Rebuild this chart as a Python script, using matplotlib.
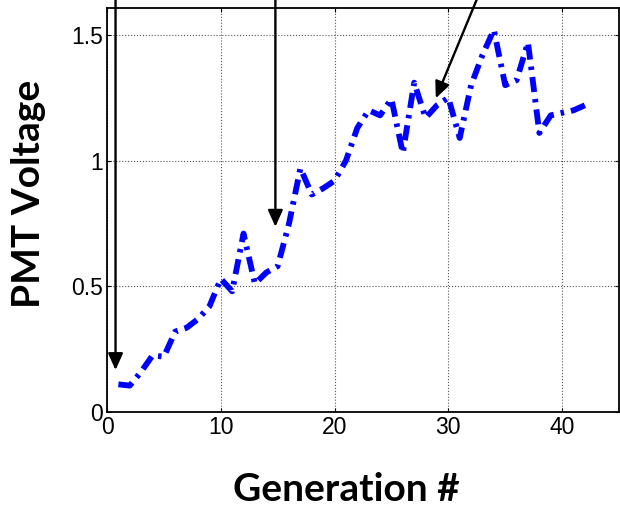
import matplotlib
matplotlib.use('Agg')
from matplotlib import pyplot as plt

# PMT voltage per generation
generation = list(range(1, 43))
pmt_voltage = [0.11, 0.105, 0.16, 0.225, 0.22, 0.32, 0.335, 0.37, 0.42, 0.53,
               0.48, 0.71, 0.51, 0.555, 0.58, 0.75, 0.97, 0.865, 0.89, 0.92,
               1.0, 1.13, 1.2, 1.18, 1.245, 1.03, 1.31, 1.17, 1.22, 1.25,
               1.09, 1.3, 1.42, 1.52, 1.3, 1.32, 1.47, 1.11, 1.18, 1.19,
               1.2, 1.22]

# arrow tips (generation, voltage) and where each arrow starts
arrow_tips = [(0.75, 0.167), (14.8, 0.737), (28.9, 1.248)]
arrow_tails = [(0.75, 1.75), (14.8, 1.75), (33.5, 1.75)]

fig = plt.figure(figsize=(6.2, 5.09), dpi=100)
ax = fig.add_axes([107 / 620, 1 - 412 / 509, 512 / 620, 404 / 509])

ax.plot(generation, pmt_voltage, color='#0000ff', lw=4.2,
        linestyle=(0, (2.6, 1.2, 0.6, 1.2)), dash_capstyle='butt')

for tip, tail in zip(arrow_tips, arrow_tails):
    ax.annotate('', xy=tip, xytext=tail, annotation_clip=False,
                arrowprops=dict(arrowstyle='-|>,head_length=1.0,head_width=0.45',
                                color='black', lw=1.7, shrinkA=0, shrinkB=0))

ax.set_xlim(0, 45)
ax.set_ylim(0, 1.607)
ax.set_xticks([0, 10, 20, 30, 40])
ax.set_yticks([0, 0.5, 1, 1.5])
ax.set_yticklabels(['0', '0.5', '1', '1.5'])
ax.grid(True, color='#555555', linestyle=':', linewidth=0.8)
ax.tick_params(direction='in', top=True, right=True, length=3, width=0.8,
               labelsize=16.5, pad=3)
for lbl in ax.get_xticklabels() + ax.get_yticklabels():
    lbl.set_family(['Liberation Sans', 'DejaVu Sans'])
for s in ax.spines.values():
    s.set_linewidth(1.3)

ax.set_xlabel('Generation #', fontsize=28, fontweight='bold',
              family=['Lato', 'DejaVu Sans'], va='center', ha='center')
ax.set_ylabel('PMT Voltage', fontsize=28, fontweight='bold',
              family=['Lato', 'DejaVu Sans'], va='center', ha='center')
ax.xaxis.set_label_coords(0.467, -0.193)
ax.yaxis.set_label_coords(-0.154, 0.541)

plt.savefig('out.png', dpi=100)
